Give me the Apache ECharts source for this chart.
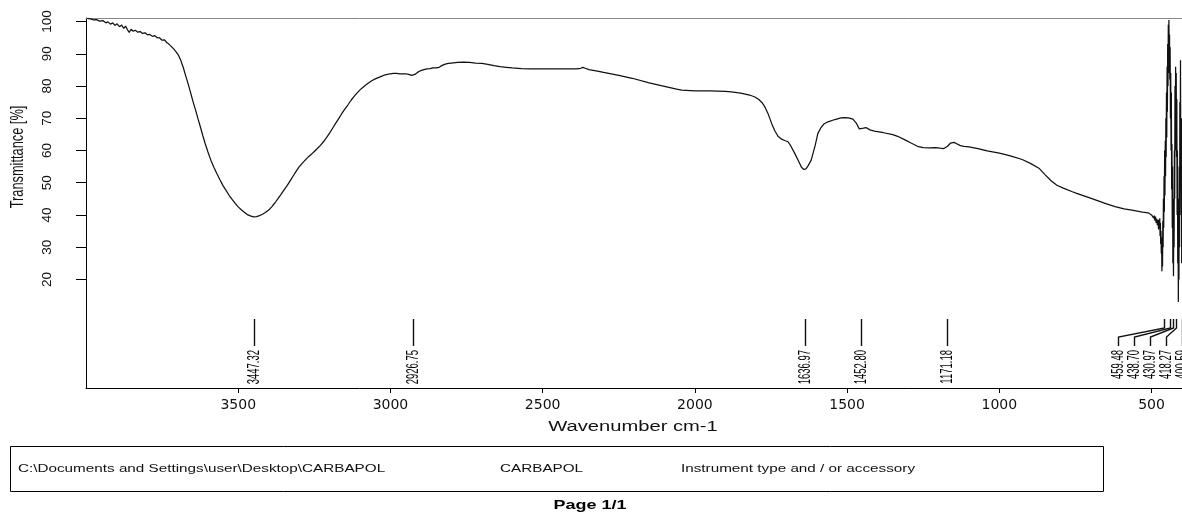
<!DOCTYPE html>
<html>
<head>
<meta charset="utf-8">
<script src="https://cdn.jsdelivr.net/npm/echarts@6/dist/echarts.min.js"></script>
<style>
  html, body { margin: 0; padding: 0; background: #fff; }
  #chart { width: 1182px; height: 518px; }
</style>
</head>
<body>
<div id="chart"></div>
<script>
// ---- data ----
const wavenumbers = [
  3996, 3985, 3975, 3965, 3955, 3945, 3935, 3928, 3920, 3912, 3905, 3898, 3890, 3883, 3876, 3870,
  3864, 3858, 3852, 3845, 3838, 3830, 3822, 3814, 3806, 3798, 3790, 3782, 3774, 3766, 3758, 3750,
  3742, 3735, 3728, 3720, 3712, 3704, 3696, 3688, 3680, 3672, 3664, 3656, 3648, 3640, 3632, 3624,
  3616, 3608, 3600, 3590, 3580, 3570, 3560, 3550, 3540, 3530, 3520, 3510, 3500, 3490, 3480, 3470,
  3460, 3450, 3440, 3430, 3420, 3410, 3400, 3390, 3380, 3370, 3360, 3350, 3340, 3330, 3320, 3310,
  3300, 3290, 3280, 3270, 3260, 3250, 3240, 3230, 3220, 3210, 3200, 3190, 3180, 3170, 3160, 3150,
  3140, 3130, 3120, 3110, 3100, 3090, 3080, 3070, 3060, 3050, 3040, 3030, 3020, 3010, 3000, 2990,
  2980, 2970, 2960, 2950, 2940, 2930, 2920, 2910, 2900, 2890, 2880, 2870, 2860, 2850, 2845, 2840,
  2830, 2820, 2810, 2800, 2780, 2760, 2740, 2720, 2700, 2680, 2660, 2640, 2620, 2600, 2570, 2540,
  2500, 2460, 2420, 2390, 2375, 2368, 2360, 2348, 2320, 2300, 2250, 2206, 2150, 2100, 2060, 2043,
  2000, 1950, 1900, 1880, 1850, 1820, 1803, 1790, 1780, 1770, 1760, 1748, 1738, 1727, 1715, 1705,
  1694, 1685, 1672, 1660, 1650, 1642, 1635, 1628, 1618, 1605, 1596, 1585, 1575, 1563, 1540, 1520,
  1509, 1495, 1481, 1470, 1460, 1454, 1446, 1438, 1425, 1410, 1380, 1350, 1334, 1310, 1290, 1269,
  1250, 1230, 1210, 1195, 1182, 1170, 1160, 1149, 1140, 1128, 1116, 1100, 1070, 1040, 1000, 970,
  953, 925, 898, 870, 850, 830, 811, 790, 760, 746, 710, 680, 650, 620, 590, 560,
  530, 510, 505, 500, 497, 495, 493, 491, 489, 487, 485, 483, 481, 479, 477, 476,
  474, 473, 472, 471, 470, 469, 468, 467, 466, 465, 464, 463, 462, 461, 460, 459,
  458, 457, 456, 455, 454, 453, 452, 451, 450, 449, 448, 447, 446, 445, 444, 443,
  442, 441, 440, 439, 438, 437, 436, 435, 434, 433, 432, 431, 430, 429, 428, 427,
  426, 425, 424, 423, 422, 421, 420, 419, 418, 417, 416, 415, 414, 413, 412, 411,
  410, 409, 408, 407, 406, 405, 404, 403, 402, 401, 400
];
const transmittance = [
  101.0, 100.8, 100.5, 100.6, 100.1, 100.3, 99.6, 99.9, 99.2, 99.6, 98.8, 99.3, 98.4, 98.9, 97.9, 98.6,
  97.5, 96.6, 97.6, 97.0, 97.3, 96.7, 96.9, 96.3, 96.5, 95.9, 96.0, 95.4, 95.6, 95.0, 94.9, 94.2,
  94.3, 93.5, 93.0, 92.3, 91.5, 90.6, 89.5, 87.8, 85.6, 83.0, 80.5, 77.8, 75.0, 72.5, 69.8, 67.2,
  64.5, 62.0, 59.7, 57.0, 54.8, 52.8, 50.9, 49.1, 47.6, 46.1, 44.8, 43.6, 42.5, 41.6, 40.8, 40.1,
  39.7, 39.4, 39.5, 39.8, 40.2, 40.8, 41.5, 42.5, 43.7, 45.0, 46.3, 47.7, 49.0, 50.5, 52.0, 53.5,
  54.9, 56.0, 57.0, 58.0, 58.8, 59.7, 60.6, 61.6, 62.7, 64.0, 65.4, 66.9, 68.4, 69.9, 71.4, 72.8,
  74.1, 75.5, 76.7, 77.8, 78.8, 79.6, 80.4, 81.1, 81.7, 82.2, 82.6, 83.0, 83.4, 83.6, 83.8, 83.9,
  83.9, 83.8, 83.8, 83.8, 83.6, 83.3, 83.6, 84.3, 84.8, 85.1, 85.3, 85.4, 85.6, 85.6, 85.4, 85.8,
  86.4, 86.8, 87.0, 87.1, 87.3, 87.4, 87.3, 87.1, 87.0, 86.7, 86.3, 86.0, 85.8, 85.6, 85.4, 85.3,
  85.3, 85.3, 85.3, 85.3, 85.5, 85.8, 85.5, 85.1, 84.6, 84.2, 83.3, 82.4, 81.0, 79.9, 79.0, 78.7,
  78.5, 78.5, 78.3, 78.2, 77.8, 77.2, 76.6, 75.8, 74.9, 73.5, 71.5, 68.4, 66.2, 64.4, 63.5, 63.1,
  62.7, 61.4, 59.1, 56.8, 54.8, 54.1, 54.3, 55.3, 57.0, 61.5, 65.3, 67.2, 68.3, 68.9, 69.6, 70.1,
  70.2, 70.1, 69.7, 68.5, 66.7, 66.3, 66.9, 67.1, 66.4, 66.0, 65.5, 64.9, 64.4, 63.3, 62.3, 61.3,
  60.9, 60.8, 60.9, 60.7, 60.6, 61.3, 62.3, 62.5, 62.1, 61.5, 61.3, 61.1, 60.6, 59.9, 59.2, 58.5,
  58.0, 57.2, 56.0, 54.5, 52.5, 50.6, 49.2, 48.3, 47.2, 46.7, 45.5, 44.5, 43.5, 42.6, 41.9, 41.4,
  40.9, 40.6, 40.2, 40.0, 39.4, 40.3, 39.0, 39.8, 38.2, 39.5, 37.5, 38.8, 36.8, 38.5, 35.5, 38.5,
  36.0, 39.0, 33.5, 37.5, 31.0, 35.0, 28.0, 33.0, 22.5, 30.0, 24.0, 38.0, 30.0, 45.0, 36.0, 52.0,
  41.0, 60.0, 46.0, 63.0, 52.0, 70.0, 58.0, 78.0, 64.0, 86.0, 72.0, 93.0, 80.0, 99.0, 84.0, 100.5,
  88.0, 96.0, 82.0, 92.0, 70.0, 84.0, 60.0, 78.0, 48.0, 62.0, 36.0, 55.0, 25.0, 45.0, 21.0, 40.0,
  30.0, 60.0, 45.0, 80.0, 60.0, 86.0, 70.0, 84.0, 58.0, 76.0, 40.0, 60.0, 25.0, 45.0, 13.0, 35.0,
  20.0, 55.0, 30.0, 75.0, 50.0, 88.0, 60.0, 40.0, 70.0, 25.0, 50.0
];
const peakPositions = [3447.32, 2926.75, 1636.97, 1452.80, 1171.18, 459.48, 438.70, 430.97, 418.27, 400.59];
const xTickValues = [500, 1000, 1500, 2000, 2500, 3000, 3500];
const yTickValues = [20, 30, 40, 50, 60, 70, 80, 90, 100];
const xAxisTitle = 'Wavenumber cm-1';
const yAxisTitle = 'Transmittance [%]';
const footerPath = 'C:\\Documents and Settings\\user\\Desktop\\CARBAPOL';
const footerSample = 'CARBAPOL';
const footerInstrument = 'Instrument type and / or accessory';
const pageLabel = 'Page 1/1';

// ---- chart ----
const X_MIN = 400, X_MAX = 4000, Y_MIN = -13.7, Y_MAX = 101.1;
const FONT = "'Liberation Sans', Arial, sans-serif";
const STRETCH = 1.44;

const chart = echarts.init(document.getElementById('chart'), null, { renderer: 'canvas' });

const lineData = wavenumbers.map((w, i) => [w, transmittance[i]]);

function renderPeak(params, api) {
  const i = params.dataIndex;
  const xs = peakPositions.map(w => api.coord([w, 0])[0]);
  const lx = xs.slice();
  for (let j = xs.length - 2; j >= 0; j--) lx[j] = Math.min(xs[j], lx[j + 1] - 16);
  const base = api.coord([peakPositions[i], Y_MIN])[1];
  const yTop = base - 69, yB1 = base - 60, yB2 = base - 51, yBot = base - 42, yLab = base - 38;
  const x0 = Math.round(xs[i]) + 0.5, x1 = Math.round(lx[i]) + 0.5;
  let pts;
  if (Math.abs(x0 - x1) < 0.6) pts = [[x0, yTop], [x0, yBot]];
  else pts = [[x0, yTop], [x0, yB1], [x1, yB2], [x1, yBot]];
  return {
    type: 'group',
    children: [
      { type: 'polyline', shape: { points: pts }, style: { stroke: '#111', lineWidth: 1.4, fill: null } },
      {
        type: 'text', x: x1, y: yLab, rotation: Math.PI / 2, scaleY: 1.65,
        style: {
          text: peakPositions[i].toFixed(2), fontSize: 9.5, fontFamily: FONT, fill: '#000',
          align: 'right', textAlign: 'right', verticalAlign: 'middle', textVerticalAlign: 'middle'
        }
      }
    ]
  };
}

const option = {
  animation: false,
  backgroundColor: '#fff',
  grid: { left: 86, top: 18, width: 1098, height: 370 },
  xAxis: [
    {
      type: 'value', inverse: true, min: X_MIN, max: X_MAX,
      axisLine: { show: true, onZero: false, lineStyle: { color: '#000', width: 1 } },
      axisTick: { show: true, inside: false, length: 5, customValues: xTickValues, lineStyle: { color: '#000' } },
      axisLabel: { show: true, customValues: xTickValues, margin: 10, color: '#111',
        fontFamily: "'DejaVu Sans', sans-serif", fontSize: 14, formatter: v => String(v) },
      splitLine: { show: false }
    },
    {
      type: 'value', inverse: true, min: X_MIN, max: X_MAX, position: 'top',
      axisLine: { show: true, onZero: false, lineStyle: { color: '#888', width: 1 } },
      axisTick: { show: false }, axisLabel: { show: false }, splitLine: { show: false }
    }
  ],
  yAxis: {
    type: 'value', min: Y_MIN, max: Y_MAX,
    axisLine: { show: true, onZero: false, lineStyle: { color: '#000', width: 1 } },
    axisTick: { show: true, inside: false, length: 10, customValues: yTickValues, lineStyle: { color: '#000' } },
    axisLabel: { show: true, customValues: yTickValues, rotate: 90, margin: 32, color: '#111',
      fontFamily: "'Liberation Sans Narrow', 'Liberation Sans', sans-serif", fontSize: 13.5, formatter: v => String(v) },
    splitLine: { show: false }
  },
  series: [
    {
      type: 'line', data: lineData, showSymbol: false, symbol: 'none',
      lineStyle: { color: '#111', width: 1.25 }, sampling: null, clip: true, z: 3
    },
    {
      type: 'custom', coordinateSystem: 'cartesian2d', clip: false,
      data: peakPositions.map(w => [w, 0]), renderItem: renderPeak, z: 4
    }
  ],
  graphic: [
    { type: 'text', x: 18, y: 157, rotation: Math.PI / 2, scaleY: STRETCH,
      style: { text: yAxisTitle, fontSize: 12.8, fontFamily: FONT, fill: '#111', align: 'center', verticalAlign: 'middle' } },
    { type: 'text', x: 633, y: 427, scaleX: STRETCH,
      style: { text: xAxisTitle, fontSize: 14, fontFamily: FONT, fill: '#111', align: 'center', verticalAlign: 'middle' } },
    { type: 'rect', shape: { x: 10.5, y: 446.5, width: 1093, height: 45 },
      style: { fill: 'none', stroke: '#000', lineWidth: 1 } },
    { type: 'text', x: 18, y: 469, scaleX: STRETCH,
      style: { text: footerPath, fontSize: 10.6, fontFamily: FONT, fill: '#111', align: 'left', verticalAlign: 'middle' } },
    { type: 'text', x: 500, y: 469, scaleX: STRETCH,
      style: { text: footerSample, fontSize: 10.6, fontFamily: FONT, fill: '#111', align: 'left', verticalAlign: 'middle' } },
    { type: 'text', x: 681, y: 469, scaleX: STRETCH,
      style: { text: footerInstrument, fontSize: 10.6, fontFamily: FONT, fill: '#111', align: 'left', verticalAlign: 'middle' } },
    { type: 'text', x: 590, y: 506, scaleX: STRETCH,
      style: { text: pageLabel, fontSize: 12.5, fontWeight: 'bold', fontFamily: FONT, fill: '#000', align: 'center', verticalAlign: 'middle' } }
  ]
};
chart.setOption(option);
</script>
</body>
</html>
